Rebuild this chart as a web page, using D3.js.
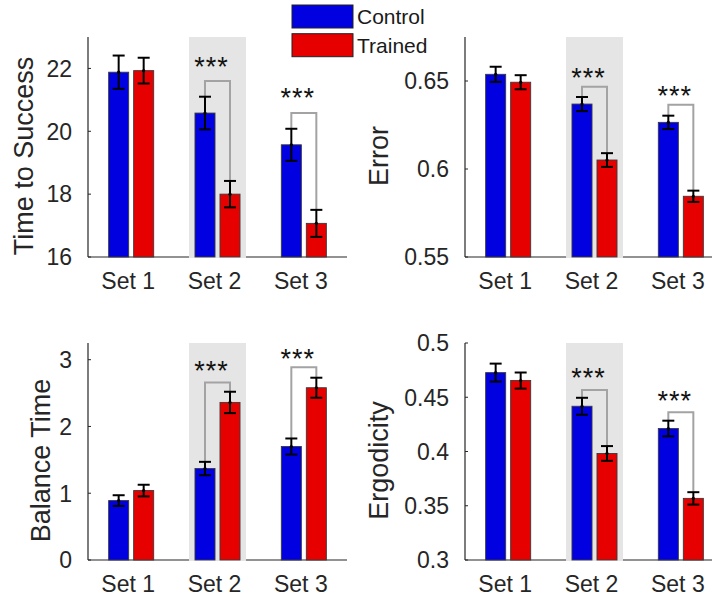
<!DOCTYPE html>
<html>
<head>
<meta charset="utf-8">
<script src="https://cdn.jsdelivr.net/npm/d3@7"></script>
<style>
  html, body { margin: 0; padding: 0; background: #fff; }
  svg { display: block; font-family: "Liberation Sans", Arial, Helvetica, sans-serif; }
</style>
</head>
<body>
<div id="chart"></div>
<script>
// data
const sets = ["Set 1", "Set 2", "Set 3"];
const groups = ["Control", "Trained"];
const groupColors = ["#0000e0", "#e60000"];

// time to success
const timeControl = [21.88, 20.58, 19.57];
const timeControlErr = [0.53, 0.52, 0.51];
const timeTrained = [21.93, 18.0, 17.07];
const timeTrainedErr = [0.41, 0.42, 0.43];
const timeTicks = [16, 18, 20, 22];
const timeBracket = [null, 21.6, 20.58];
const timeStars = [null, 22.22, 21.24];

// error
const errControl = [0.6538, 0.6369, 0.6265];
const errControlErr = [0.0043, 0.004, 0.0038];
const errTrained = [0.6493, 0.6051, 0.5845];
const errTrainedErr = [0.004, 0.0039, 0.0032];
const errTicks = [0.55, 0.6, 0.65];
const errBracket = [null, 0.6468, 0.6365];
const errStars = [null, 0.6553, 0.6447];

// balance time
const balControl = [0.89, 1.37, 1.70];
const balControlErr = [0.08, 0.10, 0.12];
const balTrained = [1.04, 2.36, 2.58];
const balTrainedErr = [0.087, 0.16, 0.15];
const balTicks = [0, 1, 2, 3];
const balBracket = [null, 2.657, 2.885];
const balStars = [null, 2.921, 3.094];

// ergodicity
const ergControl = [0.4727, 0.4417, 0.4212];
const ergControlErr = [0.0083, 0.0078, 0.0072];
const ergTrained = [0.4654, 0.3982, 0.3568];
const ergTrainedErr = [0.0074, 0.0068, 0.0057];
const ergTicks = [0.3, 0.35, 0.4, 0.45, 0.5];
const ergBracket = [null, 0.4567, 0.4362];
const ergStars = [null, 0.4727, 0.4518];

const shadedSet = "Set 2";

const W = 712, H = 597;
const svg = d3.select("#chart").append("svg")
  .attr("width", W).attr("height", H);

function drawPanel(p){
  const g = svg.append("g");

  const x = d3.scaleLinear().domain([0.5, 3.5]).range([p.left, p.right]);
  const y = d3.scaleLinear().domain(p.domain).range([p.bottom, p.top]);
  const step = x(2) - x(1);
  const barW = step * 0.232;
  const off = [-12.5, 12.5].map(v => v / 86.3 * step);

  const si = sets.indexOf(shadedSet) + 1;
  const bandHalf = step * 0.33;

  // axes
  g.append("line")
    .attr("x1", p.left).attr("x2", Math.min(p.right, W))
    .attr("y1", p.bottom).attr("y2", p.bottom)
    .attr("stroke", "#262626").attr("stroke-width", 1.2);
  g.append("line")
    .attr("x1", p.left).attr("x2", p.left)
    .attr("y1", p.top).attr("y2", p.bottom)
    .attr("stroke", "#262626").attr("stroke-width", 1.2);

  // shaded band over set 2 (covers the axis line there)
  g.append("rect")
    .attr("x", x(si) - bandHalf)
    .attr("y", y(p.domain[1]))
    .attr("width", bandHalf * 2)
    .attr("height", y(p.domain[0]) - y(p.domain[1]) + 1)
    .attr("fill", "#e5e5e5");

  // y ticks
  p.ticks.forEach(t => {
    g.append("line")
      .attr("x1", p.left).attr("x2", p.left + 3)
      .attr("y1", y(t)).attr("y2", y(t))
      .attr("stroke", "#262626");
    g.append("text")
      .attr("x", p.left - 16)
      .attr("y", y(t))
      .attr("dy", "0.36em")
      .attr("text-anchor", "end")
      .attr("fill", "#262626")
      .style("font-size", "23px")
      .text(d3.format("~g")(t));
  });

  // x labels
  sets.forEach((s, i) => {
    g.append("text")
      .attr("x", x(i + 1) - 3)
      .attr("y", p.bottom + 31.5)
      .attr("text-anchor", "middle")
      .attr("fill", "#262626")
      .style("font-size", "23px")
      .text(s);
  });

  // y label
  g.append("text")
    .attr("transform", `translate(${p.left - p.labelOff},${(p.top + p.bottom) / 2 + 9}) rotate(-90)`)
    .attr("text-anchor", "middle")
    .attr("fill", "#262626")
    .style("font-size", "27px")
    .text(p.label);

  // bars
  const series = [
    {vals: p.control, errs: p.controlErr, color: groupColors[0], off: off[0]},
    {vals: p.trained, errs: p.trainedErr, color: groupColors[1], off: off[1]}
  ];
  series.forEach(s => {
    s.vals.forEach((v, i) => {
      const cx = x(i + 1) + s.off;
      g.append("rect")
        .attr("x", cx - barW / 2)
        .attr("y", y(v))
        .attr("width", barW)
        .attr("height", y(p.domain[0]) - y(v))
        .attr("fill", s.color)
        .attr("stroke", "#3a3a3a")
        .attr("stroke-width", 0.9);
    });
  });

  // significance brackets
  p.bracket.forEach((b, i) => {
    if(b == null) return;
    const xa = x(i + 1) + off[0], xb = x(i + 1) + off[1];
    const ya = y(p.control[i] + p.controlErr[i]);
    const yb = y(p.trained[i] + p.trainedErr[i]);
    g.append("path")
      .attr("d", `M${xa},${ya}V${y(b)}H${xb}V${yb}`)
      .attr("fill", "none")
      .attr("stroke", "#a3a3a3")
      .attr("stroke-width", 2);
    g.append("text")
      .attr("x", x(i + 1) - 6)
      .attr("y", y(p.stars[i]))
      .attr("dy", "0.55em")
      .attr("text-anchor", "middle")
      .attr("fill", "#111")
      .style("font-size", "27px")
      .style("letter-spacing", "1px")
      .text("***");
  });

  // error bars
  series.forEach(s => {
    s.vals.forEach((v, i) => {
      const cx = x(i + 1) + s.off;
      const lo = y(v - s.errs[i]), hi = y(v + s.errs[i]);
      g.append("line")
        .attr("x1", cx).attr("x2", cx).attr("y1", lo).attr("y2", hi)
        .attr("stroke", "#000").attr("stroke-width", 2);
      [lo, hi].forEach(yy => {
        g.append("line")
          .attr("x1", cx - 6).attr("x2", cx + 6).attr("y1", yy).attr("y2", yy)
          .attr("stroke", "#000").attr("stroke-width", 2);
      });
      g.append("circle")
        .attr("cx", cx).attr("cy", y(v)).attr("r", 1.6)
        .attr("fill", "#000");
    });
  });
}

drawPanel({left: 88, right: 347, top: 37, bottom: 257, domain: [16, 23],
  ticks: timeTicks, label: "Time to Success", labelOff: 55,
  control: timeControl, controlErr: timeControlErr,
  trained: timeTrained, trainedErr: timeTrainedErr,
  bracket: timeBracket, stars: timeStars});

drawPanel({left: 465, right: 724, top: 37, bottom: 257, domain: [0.55, 0.675],
  ticks: errTicks, label: "Error", labelOff: 77,
  control: errControl, controlErr: errControlErr,
  trained: errTrained, trainedErr: errTrainedErr,
  bracket: errBracket, stars: errStars});

drawPanel({left: 88, right: 347, top: 343, bottom: 560, domain: [0, 3.25],
  ticks: balTicks, label: "Balance Time", labelOff: 38,
  control: balControl, controlErr: balControlErr,
  trained: balTrained, trainedErr: balTrainedErr,
  bracket: balBracket, stars: balStars});

drawPanel({left: 465, right: 724, top: 343, bottom: 560, domain: [0.3, 0.5],
  ticks: ergTicks, label: "Ergodicity", labelOff: 77,
  control: ergControl, controlErr: ergControlErr,
  trained: ergTrained, trainedErr: ergTrainedErr,
  bracket: ergBracket, stars: ergStars});

// legend
const legend = svg.append("g");
groups.forEach((name, i) => {
  legend.append("rect")
    .attr("x", 292).attr("y", 5 + i * 28.7)
    .attr("width", 61).attr("height", 23)
    .attr("fill", groupColors[i])
    .attr("stroke", "#222").attr("stroke-width", 1);
  legend.append("text")
    .attr("x", 357).attr("y", 16.5 + i * 28.7)
    .attr("dy", "0.36em")
    .attr("fill", "#1a1a1a")
    .style("font-size", "21px")
    .text(name);
});
</script>
</body>
</html>
